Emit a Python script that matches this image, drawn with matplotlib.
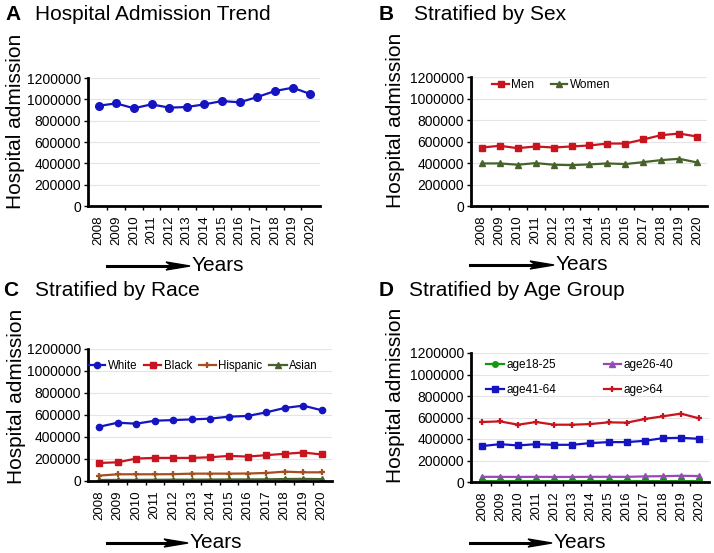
import matplotlib.pyplot as plt
import numpy as np

plt.rcParams['font.family'] = ['Liberation Sans', 'DejaVu Sans']

years = ['2008', '2009', '2010', '2011', '2012', '2013', '2014',
         '2015', '2016', '2017', '2018', '2019', '2020']

total = [940000, 962000, 916000, 953000, 922000, 928000, 953000,
         984000, 972000, 1022000, 1078000, 1109000, 1050000]

men = [544000, 560000, 538000, 554000, 544000, 554000, 563000,
       581000, 581000, 619000, 659000, 674000, 646000]
women = [396000, 396000, 384000, 399000, 384000, 380000, 387000,
         396000, 390000, 408000, 427000, 439000, 405000]

white = [493000, 530000, 521000, 548000, 554000, 560000, 567000,
         585000, 591000, 624000, 664000, 685000, 643000]
black = [164000, 170000, 204000, 210000, 210000, 210000, 216000,
         228000, 222000, 235000, 247000, 259000, 241000]
hispanic = [49000, 61000, 61000, 61000, 62000, 67000, 67000,
            67000, 68000, 73000, 85000, 79000, 79000]
asian = [9000, 10000, 10000, 11000, 12000, 12000, 13000,
         14000, 14000, 15000, 18000, 19000, 17000]

age18_25 = [7000, 7000, 7000, 7000, 7000, 7000, 7000,
            7000, 7000, 8000, 8000, 8000, 8000]
age26_40 = [48000, 48000, 47000, 48000, 47000, 47000, 48000,
            48000, 48000, 52000, 54000, 58000, 55000]
age41_64 = [334000, 352000, 340000, 352000, 346000, 346000, 362000,
            371000, 371000, 383000, 408000, 411000, 402000]
age_over64 = [558000, 564000, 533000, 558000, 533000, 533000, 539000,
              555000, 552000, 586000, 611000, 636000, 592000]

W, H = 714, 553
fig = plt.figure(figsize=(W / 100, H / 100), dpi=100)


def px_axes(left, top, right, bottom):
    return fig.add_axes([left / W, 1 - bottom / H, (right - left) / W, (bottom - top) / H])


def style_axes(ax, label_xy):
    x = np.arange(len(years))
    ax.set_xlim(-0.6, len(years) - 0.45)
    ax.set_ylim(0, 1200000)
    ax.set_yticks(np.arange(0, 1200001, 200000))
    ax.set_yticklabels([str(v) for v in range(0, 1200001, 200000)], fontsize=10)
    ax.set_xticks(x)
    ax.set_xticklabels(years, rotation=90, fontsize=9.5)
    ax.set_xticks(x[:-1] + 0.5, minor=True)
    ax.tick_params(axis='x', which='major', length=0, pad=7)
    ax.tick_params(axis='x', which='minor', length=3, width=1)
    ax.tick_params(axis='y', length=3, width=1, pad=2)
    for s in ['top', 'right']:
        ax.spines[s].set_visible(False)
    for s in ['left', 'bottom']:
        ax.spines[s].set_linewidth(2)
    ax.grid(axis='y', color='#e4e4e4', lw=0.8)
    ax.set_axisbelow(True)
    ax.set_ylabel('Hospital admission', fontsize=15)
    ax.yaxis.set_label_coords(*label_xy)


def title(letter, text, xl, xt, y):
    fig.text(xl / W, 1 - y / H, letter, fontsize=15, fontweight='bold', va='center')
    fig.text(xt / W, 1 - y / H, text, fontsize=15, va='center')


def years_arrow(x1, x2, y):
    fig.add_artist(plt.Line2D([x1 / W, (x2 - 12) / W], [1 - y / H, 1 - y / H], color='black', lw=2.2))
    fig.patches.append(plt.Polygon([[(x2 - 24) / W, 1 - (y - 4) / H], [x2 / W, 1 - y / H],
                                    [(x2 - 24) / W, 1 - (y + 4) / H], [(x2 - 18) / W, 1 - y / H]],
                                   closed=True, color='black', transform=fig.transFigure))
    fig.text((x2 + 2) / W, 1 - (y - 1) / H, 'Years', fontsize=15, va='center')


x = np.arange(len(years))
blue = '#1414c0'
red = '#c8141e'
olive = '#48622c'

# A
axA = px_axes(88, 78, 320, 206)
axA.plot(x, total, color=blue, lw=1.6, marker='o', ms=5.5)
style_axes(axA, (-0.272, 0.66))
title('A', 'Hospital Admission Trend', 5, 35, 15)
years_arrow(107, 190, 266)

# B
axB = px_axes(471, 77, 707, 206)
axB.plot(x, men, color=red, lw=1.6, marker='s', ms=4.5, label='Men')
axB.plot(x, women, color=olive, lw=1.6, marker='^', ms=5, label='Women')
style_axes(axB, (-0.28, 0.667))
axB.legend(loc='center left', bbox_to_anchor=(0.09, 0.94), ncol=2, frameon=False,
           fontsize=8.5, borderpad=0, borderaxespad=0, handlelength=1.4,
           handletextpad=0.2, columnspacing=1.4)
title('B', 'Stratified by Sex', 379, 414, 15)
years_arrow(470, 554, 265)

# C
axC = px_axes(88, 349, 332, 481)
axC.plot(x, white, color=blue, lw=1.6, marker='o', ms=4.5, label='White')
axC.plot(x, black, color=red, lw=1.6, marker='s', ms=4.5, label='Black')
axC.plot(x, hispanic, color='#a4501e', lw=1.6, marker='+', ms=5, mew=1.6, label='Hispanic')
axC.plot(x, asian, color=olive, lw=1.6, marker='^', ms=4.5, label='Asian')
style_axes(axC, (-0.254, 0.644))
axC.legend(loc='center left', bbox_to_anchor=(0.0, 0.871), ncol=4, frameon=False,
           fontsize=8.3, borderpad=0, borderaxespad=0, handlelength=1.5,
           handletextpad=0.2, columnspacing=0.6)
title('C', 'Stratified by Race', 3, 35, 291)
years_arrow(107, 188, 543)

# D
axD = px_axes(471, 353, 709, 482)
h1, = axD.plot(x, age18_25, color='#109a10', lw=1.6, marker='o', ms=4, label='age18-25')
h2, = axD.plot(x, age26_40, color='#9848b8', lw=1.6, marker='^', ms=4, label='age26-40')
h3, = axD.plot(x, age41_64, color=blue, lw=1.6, marker='s', ms=4.5, label='age41-64')
h4, = axD.plot(x, age_over64, color=red, lw=1.6, marker='+', ms=4.5, mew=1.6, label='age>64')
axD.plot(x, age18_25, color='#109a10', lw=1.6, marker='o', ms=4)
style_axes(axD, (-0.277, 0.67))
axD.legend(handles=[h1, h3, h2, h4], loc='center left', bbox_to_anchor=(0.065, 0.81),
           ncol=2, frameon=False, fontsize=8.5, borderpad=0, borderaxespad=0,
           handlelength=1.5, handletextpad=0.2, columnspacing=4.0, labelspacing=1.1)
title('D', 'Stratified by Age Group', 379, 409, 291)
years_arrow(470, 552, 543)

fig.savefig('out.png', dpi=100)
